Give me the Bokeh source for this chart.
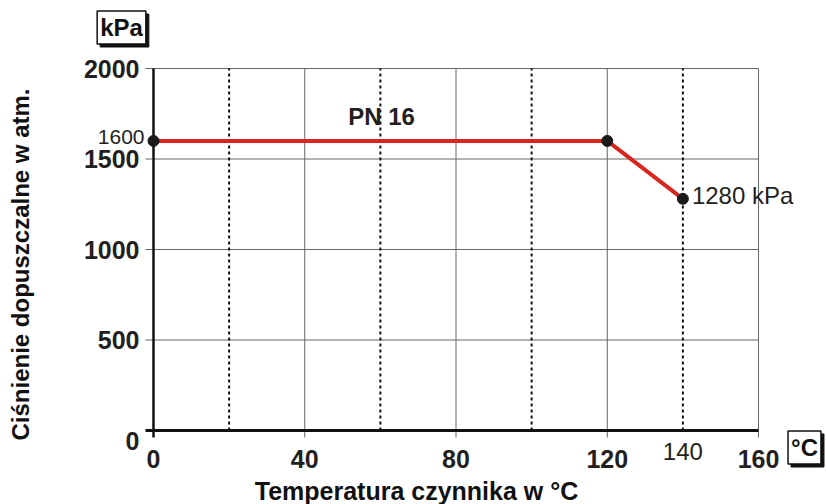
from bokeh.plotting import figure
from bokeh.models import Range1d
from bokeh.core.properties import value
from bokeh.embed import file_html
from bokeh.resources import INLINE

# Data
temps = [0, 120, 140]
pressures = [1600, 1600, 1280]
x_ticks = [0, 40, 80, 120, 160]
x_dotted = [20, 60, 100, 140]
y_ticks = [0, 500, 1000, 1500, 2000]
series_name = "PN 16"
x_title = "Temperatura czynnika w °C"
y_title = "Ciśnienie dopuszczalne w atm."
x_unit = "°C"
y_unit = "kPa"

FONT = value("Liberation Sans")
RED = "#d8261e"
INK = "#231f20"

# layout: the plotting frame fills the canvas; the chart area (0..160, 0..2000)
# sits at pixels x 153..758 and y 68..430
W, H = 826, 504
L, R, T, B = 153, 758, 68, 430
xpx = (R - L) / (x_ticks[-1] - x_ticks[0])      # px per unit
ypx = (B - T) / (y_ticks[-1] - y_ticks[0])
X0 = x_ticks[0] - L / xpx
X1 = X0 + W / xpx
Y0 = y_ticks[0] - (H - B) / ypx
Y1 = Y0 + H / ypx

def px_x(n):  # n pixels expressed in x data units
    return n / xpx

def px_y(n):
    return n / ypx

p = figure(width=W, height=H, output_backend="svg", toolbar_location=None,
           x_range=Range1d(X0, X1), y_range=Range1d(Y0, Y1),
           x_axis_location=None, y_axis_location=None,
           min_border=0, min_border_left=0, min_border_right=0, min_border_top=0, min_border_bottom=0)
p.outline_line_color = None
p.background_fill_color = "white"
p.border_fill_color = "white"
p.grid.visible = False

xtick_len = px_y(7)
ytick_len = px_x(8)
xmin, xmax = x_ticks[0], x_ticks[-1]
ymin, ymax = y_ticks[0], y_ticks[-1]

# vertical gridlines with outward tick marks
vx = x_ticks[1:]
p.segment(x0=vx, y0=[ymin - xtick_len] * len(vx), x1=vx, y1=[ymax] * len(vx),
          line_color="#666666", line_width=1)
# horizontal gridlines with outward tick marks
hy = y_ticks[1:]
p.segment(x0=[xmin - ytick_len] * len(hy), y0=hy, x1=[xmax] * len(hy), y1=hy,
          line_color="#666666", line_width=1)
# dotted intermediate lines
p.segment(x0=x_dotted, y0=[ymin] * len(x_dotted), x1=x_dotted, y1=[ymax] * len(x_dotted),
          line_color="#111111", line_width=2, line_dash="3 3")
# axis lines
p.segment(x0=[xmin], y0=[ymin - xtick_len], x1=[xmin], y1=[ymax], line_color="#111111", line_width=2.5)
p.segment(x0=[xmin - ytick_len], y0=[ymin], x1=[xmax], y1=[ymin], line_color="#111111", line_width=3)

# data
p.line(temps, pressures, line_color=RED, line_width=4)
p.scatter(temps, pressures, size=11, color="#1a1a1a")

# tick labels
p.text(x=x_ticks, y=[ymin - px_y(28)] * len(x_ticks), text=[str(t) for t in x_ticks],
       text_font=FONT, text_font_size="25px", text_font_style="bold", text_color=INK,
       text_align="center", text_baseline="middle")
p.text(x=[xmin - px_x(14)] * (len(y_ticks) - 1), y=y_ticks[1:], text=[str(t) for t in y_ticks[1:]],
       text_font=FONT, text_font_size="25px", text_font_style="bold", text_color=INK,
       text_align="right", text_baseline="middle")
p.text(x=[xmin - px_x(14)], y=[ymin - px_y(10)], text=[str(y_ticks[0])],
       text_font=FONT, text_font_size="25px", text_font_style="bold", text_color=INK,
       text_align="right", text_baseline="middle")

# extra value labels
p.text(x=[x_dotted[-1]], y=[ymin - px_y(21)], text=[str(x_dotted[-1])],
       text_font=FONT, text_font_size="24px", text_color=INK,
       text_align="center", text_baseline="middle")
p.text(x=[temps[0]], y=[pressures[0]], text=[str(pressures[0])], x_offset=-9, y_offset=-4,
       text_font=FONT, text_font_size="21px", text_color=INK,
       text_align="right", text_baseline="middle")
p.text(x=[temps[2]], y=[pressures[2]], text=[f"{pressures[2]} kPa"], x_offset=9, y_offset=-3,
       text_font=FONT, text_font_size="24px", text_color=INK,
       text_align="left", text_baseline="middle")
p.text(x=[60.3], y=[pressures[0] + px_y(24)], text=[series_name],
       text_font=FONT, text_font_size="24px", text_font_style="bold", text_color=INK,
       text_align="center", text_baseline="middle")

# axis titles
p.text(x=[xmin + px_x(263)], y=[ymin - px_y(60)], text=[x_title],
       text_font=FONT, text_font_size="25px", text_font_style="bold", text_color="#111111",
       text_align="center", text_baseline="middle")
p.text(x=[xmin - px_x(133)], y=[ymin + px_y(166)], text=[y_title], angle=1.5708,
       text_font=FONT, text_font_size="24px", text_font_style="bold", text_color="#111111",
       text_align="center", text_baseline="middle")

# unit boxes with shadow
def unit_box(x, y, text):
    p.text(x=[x], y=[y], text=[text], x_offset=3, y_offset=3,
           text_font=FONT, text_font_size="24px", text_font_style="bold", text_color="#111111",
           text_align="center", text_baseline="middle",
           background_fill_color="#111111", border_line_color="#111111", padding=3)
    p.text(x=[x], y=[y], text=[text],
           text_font=FONT, text_font_size="24px", text_font_style="bold", text_color="#111111",
           text_align="center", text_baseline="middle",
           background_fill_color="white", border_line_color="#111111", border_line_width=1.5,
           padding=3)

unit_box(xmin - px_x(32), ymax + px_y(41), y_unit)
unit_box(xmax + px_x(46), ymin - px_y(17), x_unit)

open("out.html", "w").write(file_html(p, INLINE))
